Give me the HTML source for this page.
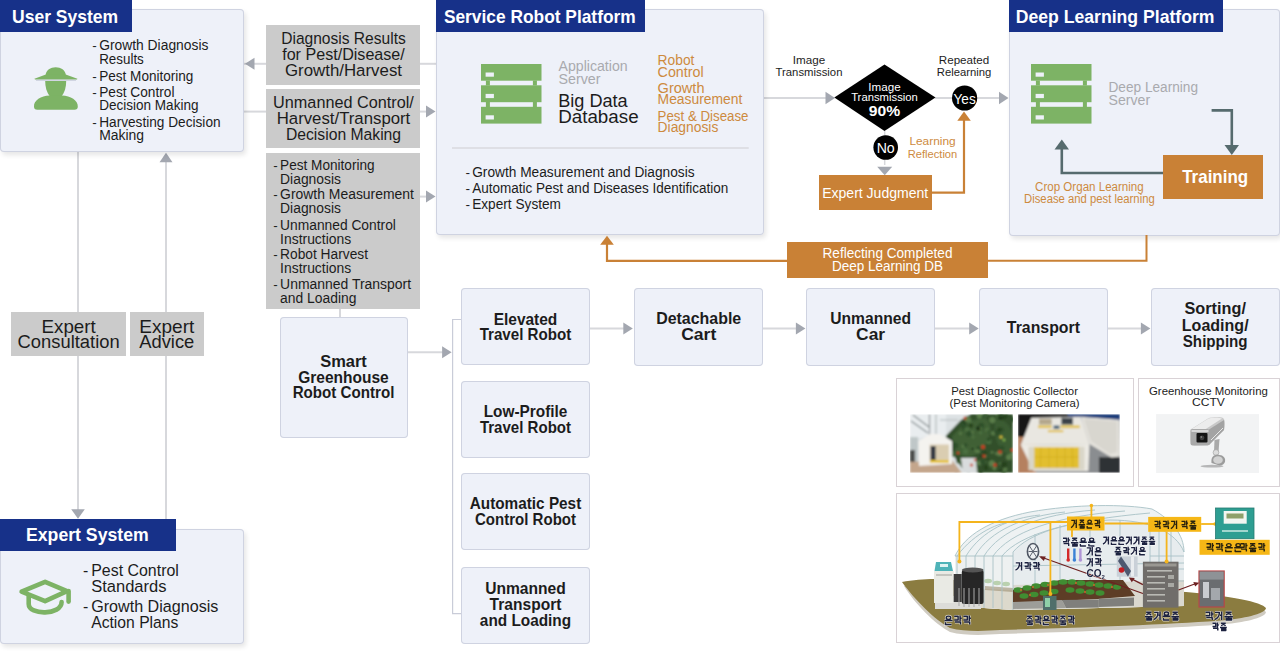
<!DOCTYPE html>
<html><head><meta charset="utf-8"><style>
html,body{margin:0;padding:0;}
body{width:1280px;height:652px;overflow:hidden;background:#fff;position:relative;font-family:"Liberation Sans",sans-serif;}
body>div{position:absolute;box-sizing:border-box;}
svg{position:absolute;left:0;top:0;}
text{font-family:"Liberation Sans",sans-serif;}
</style></head><body>
<svg width="1280" height="652" viewBox="0 0 1280 652"><line x1="78" y1="152" x2="78" y2="510" stroke="#d7d8dc" stroke-width="2"/><line x1="166" y1="161" x2="166" y2="519" stroke="#d7d8dc" stroke-width="2"/><polygon points="166.0,152.8 159.5,162.3 172.5,162.3" fill="#a3a7b0"/><polygon points="78.0,518.8 71.2,509.3 84.8,509.3" fill="#a3a7b0"/><line x1="244" y1="63.8" x2="267" y2="63.8" stroke="#d7d8dc" stroke-width="2"/><line x1="420" y1="63.8" x2="437" y2="63.8" stroke="#d7d8dc" stroke-width="2"/><polygon points="245.0,63.8 254.5,57.8 254.5,69.8" fill="#a3a7b0"/><line x1="244" y1="111.6" x2="267" y2="111.6" stroke="#d7d8dc" stroke-width="2"/><line x1="420" y1="111.6" x2="428" y2="111.6" stroke="#d7d8dc" stroke-width="2"/><polygon points="435.5,111.6 426.0,105.6 426.0,117.6" fill="#a3a7b0"/><line x1="420" y1="196.6" x2="428" y2="196.6" stroke="#d7d8dc" stroke-width="2"/><polygon points="435.5,196.6 426.0,190.6 426.0,202.6" fill="#a3a7b0"/><line x1="340" y1="309" x2="340" y2="318" stroke="#d7d8dc" stroke-width="2"/><line x1="407" y1="352.3" x2="445" y2="352.3" stroke="#d7d8dc" stroke-width="2"/><polygon points="451.6,352.3 442.1,346.3 442.1,358.3" fill="#a3a7b0"/><polyline points="461,319.5 452.6,319.5 452.6,613.6 461,613.6" fill="none" stroke="#c9ccd8" stroke-width="1.2"/><line x1="590" y1="328.6" x2="625" y2="328.6" stroke="#d7d8dc" stroke-width="2"/><line x1="762" y1="328.6" x2="797" y2="328.6" stroke="#d7d8dc" stroke-width="2"/><line x1="934" y1="328.6" x2="970" y2="328.6" stroke="#d7d8dc" stroke-width="2"/><line x1="1107" y1="328.6" x2="1142" y2="328.6" stroke="#d7d8dc" stroke-width="2"/><polygon points="632.8,328.6 623.3,322.6 623.3,334.6" fill="#a3a7b0"/><polygon points="805.4,328.6 795.9,322.6 795.9,334.6" fill="#a3a7b0"/><polygon points="978.7,328.6 969.2,322.6 969.2,334.6" fill="#a3a7b0"/><polygon points="1150.4,328.6 1140.9,322.6 1140.9,334.6" fill="#a3a7b0"/><line x1="764" y1="98" x2="830" y2="98" stroke="#d7d8dc" stroke-width="2"/><line x1="935" y1="98" x2="1002" y2="98" stroke="#d7d8dc" stroke-width="2"/><polygon points="835.0,98.0 825.5,91.8 825.5,104.2" fill="#a3a7b0"/><polygon points="1008.5,98.0 999.0,91.8 999.0,104.2" fill="#a3a7b0"/><line x1="884.7" y1="131" x2="884.7" y2="165" stroke="#d7d8dc" stroke-width="1.5"/><polygon points="884.7,175.2 877.2,166.7 892.2,166.7" fill="#a3a7b0"/></svg>
<div style="left:0px;top:9.4px;width:243.8px;height:143.1px;background:#eef1f9;box-shadow:inset 0 0 0 1px #cfd3e1,2px 3px 5px rgba(0,0,0,0.10);border-radius:4px;"></div><div style="left:0px;top:0px;width:132px;height:32px;background:#173189;"></div><div style="left:266.3px;top:25px;width:153.89999999999998px;height:59.599999999999994px;background:#cbcbcb;"></div><div style="left:266.3px;top:89.3px;width:153.89999999999998px;height:59.10000000000001px;background:#cbcbcb;"></div><div style="left:266.3px;top:153px;width:153.89999999999998px;height:156.3px;background:#cbcbcb;"></div><div style="left:436px;top:9.4px;width:327.6px;height:226.1px;background:#eef1f9;box-shadow:inset 0 0 0 1px #cfd3e1,2px 3px 5px rgba(0,0,0,0.10);border-radius:4px;"></div><div style="left:436px;top:0px;width:208.60000000000002px;height:32px;background:#173189;"></div><div style="left:1008.5px;top:9.4px;width:271.0999999999999px;height:226.4px;background:#eef1f9;box-shadow:inset 0 0 0 1px #cfd3e1,2px 3px 5px rgba(0,0,0,0.10);border-radius:4px;"></div><div style="left:1008.5px;top:0px;width:214.0999999999999px;height:32px;background:#173189;"></div><div style="left:0px;top:528.5px;width:243.5px;height:115.0px;background:#eef1f9;box-shadow:inset 0 0 0 1px #cfd3e1,2px 3px 5px rgba(0,0,0,0.10);border-radius:4px;"></div><div style="left:0px;top:519px;width:176px;height:32px;background:#173189;"></div><div style="left:11.2px;top:312.2px;width:114.8px;height:43.5px;background:#cbcbcb;"></div><div style="left:130px;top:312.2px;width:73.69999999999999px;height:43.5px;background:#cbcbcb;"></div><div style="left:279.5px;top:317px;width:128.10000000000002px;height:120.80000000000001px;background:#eef1f9;box-shadow:inset 0 0 0 1px #cfd3e1;border-radius:4px;"></div><div style="left:461.2px;top:288.2px;width:128.59999999999997px;height:77.19999999999999px;background:#eef1f9;box-shadow:inset 0 0 0 1px #cfd3e1;border-radius:4px;"></div><div style="left:461.2px;top:380.8px;width:128.59999999999997px;height:77.19999999999999px;background:#eef1f9;box-shadow:inset 0 0 0 1px #cfd3e1;border-radius:4px;"></div><div style="left:461.2px;top:473px;width:128.59999999999997px;height:77.20000000000005px;background:#eef1f9;box-shadow:inset 0 0 0 1px #cfd3e1;border-radius:4px;"></div><div style="left:461.2px;top:566.5px;width:128.59999999999997px;height:77.20000000000005px;background:#eef1f9;box-shadow:inset 0 0 0 1px #cfd3e1;border-radius:4px;"></div><div style="left:634.2px;top:288.2px;width:128.60000000000002px;height:77.40000000000003px;background:#eef1f9;box-shadow:inset 0 0 0 1px #cfd3e1;border-radius:4px;"></div><div style="left:806.3px;top:288.2px;width:128.60000000000002px;height:77.40000000000003px;background:#eef1f9;box-shadow:inset 0 0 0 1px #cfd3e1;border-radius:4px;"></div><div style="left:979px;top:288.2px;width:128.5999999999999px;height:77.40000000000003px;background:#eef1f9;box-shadow:inset 0 0 0 1px #cfd3e1;border-radius:4px;"></div><div style="left:1151px;top:288.2px;width:128.5999999999999px;height:77.40000000000003px;background:#eef1f9;box-shadow:inset 0 0 0 1px #cfd3e1;border-radius:4px;"></div><div style="left:895.5px;top:377.6px;width:238.29999999999995px;height:109.69999999999999px;background:#fff;box-shadow:inset 0 0 0 1px #d9d2d6;"></div><div style="left:1138.3px;top:377.6px;width:141.70000000000005px;height:109.69999999999999px;background:#fff;box-shadow:inset 0 0 0 1px #d9d2d6;"></div><div style="left:895.5px;top:492.6px;width:384.5px;height:150.79999999999995px;background:#fff;box-shadow:inset 0 0 0 1px #d9d2d6;"></div><div style="left:818.8px;top:175.2px;width:112.80000000000007px;height:35.30000000000001px;background:#c98136;"></div><div style="left:1163px;top:155.3px;width:99.70000000000005px;height:43.39999999999998px;background:#c98136;"></div><div style="left:787.3px;top:242px;width:200.4000000000001px;height:35.80000000000001px;background:#c98136;"></div>
<svg width="1280" height="652" viewBox="0 0 1280 652"><g transform="translate(481,64)"><rect x="0" y="0" width="60.5" height="59.6" fill="#7db365"/><rect x="-0.5" y="16.7" width="61.5" height="4.6" fill="#eef1f9"/><rect x="4.9" y="16.5" width="4" height="5" fill="#7db365"/><rect x="51.9" y="16.5" width="4" height="5" fill="#7db365"/><rect x="-0.5" y="38.2" width="61.5" height="4.6" fill="#eef1f9"/><rect x="4.9" y="38.0" width="4" height="5" fill="#7db365"/><rect x="51.9" y="38.0" width="4" height="5" fill="#7db365"/><rect x="4.6" y="8.5" width="8.3" height="4.2" fill="#eef1f9"/><rect x="4.6" y="29.9" width="8.3" height="4.2" fill="#eef1f9"/><rect x="4.6" y="51.3" width="8.3" height="4.2" fill="#eef1f9"/></g><g transform="translate(1031,64)"><rect x="0" y="0" width="60.5" height="59.6" fill="#7db365"/><rect x="-0.5" y="16.7" width="61.5" height="4.6" fill="#eef1f9"/><rect x="4.9" y="16.5" width="4" height="5" fill="#7db365"/><rect x="51.9" y="16.5" width="4" height="5" fill="#7db365"/><rect x="-0.5" y="38.2" width="61.5" height="4.6" fill="#eef1f9"/><rect x="4.9" y="38.0" width="4" height="5" fill="#7db365"/><rect x="51.9" y="38.0" width="4" height="5" fill="#7db365"/><rect x="4.6" y="8.5" width="8.3" height="4.2" fill="#eef1f9"/><rect x="4.6" y="29.9" width="8.3" height="4.2" fill="#eef1f9"/><rect x="4.6" y="51.3" width="8.3" height="4.2" fill="#eef1f9"/></g><g transform="translate(28,60)" fill="#7db365">
<path d="M17.6,15.5 C17.8,4.5 37.6,4.5 37.8,15.5 Z"/>
<path d="M6.4,18.8 L18.5,14.2 L37,14.2 L49.4,18.8 L49,19.4 L7,19.4 Z"/>
<path d="M8,20.2 L48,20.2" stroke="#aeb2c4" stroke-width="0.8" stroke-opacity="0.8"/>
<path d="M17.2,21 L38.2,21 C38.2,27.5 36.6,32.5 33.5,36.5 L21.9,36.5 C18.8,32.5 17.2,27.5 17.2,21 Z"/>
<path d="M6,46.5 C5.6,40.5 13,35.8 21.5,35.5 L34,35.5 C42.5,35.8 50.2,40.5 49.8,46.5 Q49.8,49.8 46.5,49.8 L9.3,49.8 Q6,49.8 6,46.5 Z"/>
</g><g transform="translate(14,570)" fill="none" stroke="#7db365" stroke-width="4.6" stroke-linejoin="round" stroke-linecap="round">
<path d="M7.6,21.6 L31.1,11.8 L53,21.2 L31.1,31.2 Z"/>
<path d="M54.6,21 L54.6,31.6"/>
<path d="M14.7,25.5 L14.7,34 C14.7,45.5 47.6,45.5 47.6,32"/>
</g><polygon points="834.3,97.6 884.5,64.6 935.5,97.6 884.5,130.9" fill="#000"/><circle cx="964.6" cy="98" r="12.6" fill="#000"/><circle cx="885.7" cy="147.5" r="12.3" fill="#000"/><polyline points="931.6,192.6 964,192.6 964,119" fill="none" stroke="#c98136" stroke-width="2.2"/><polygon points="964,111.4 957.3,120.8 970.8,120.8" fill="#c98136"/><polyline points="787.3,260.8 607,260.8 607,243" fill="none" stroke="#c98136" stroke-width="2.2"/><polygon points="607,235.7 600.2,244.7 613.8,244.7" fill="#c98136"/><polyline points="987.7,260.8 1146.5,260.8 1146.5,235" fill="none" stroke="#c98136" stroke-width="2"/><polyline points="1211.6,110.4 1231.8,110.4 1231.8,146" fill="none" stroke="#566b6e" stroke-width="2.6"/><polygon points="1231.8,155 1224.5,145 1239,145" fill="#566b6e"/><polyline points="1163,173 1061.8,173 1061.8,148" fill="none" stroke="#566b6e" stroke-width="2.6"/><polygon points="1061.8,139.5 1054.5,149.5 1069,149.5" fill="#566b6e"/><line x1="452" y1="148" x2="748.7" y2="148" stroke="#d8d9de" stroke-width="1.4"/><defs><filter id="bl" x="-5%" y="-5%" width="110%" height="110%"><feGaussianBlur stdDeviation="0.9"/></filter><filter id="bl2"><feGaussianBlur stdDeviation="6"/></filter></defs>
<clipPath id="p1"><rect x="910" y="414.2" width="102.9" height="58.6"/></clipPath>
<g clip-path="url(#p1)"><g filter="url(#bl)">
<rect x="910" y="414" width="103" height="59" fill="#dde2e4"/>
<path d="M910,414 L946,414 L946,436 L930,436 L910,440 Z" fill="#e9edef"/>
<g stroke="#7d8688" stroke-width="1.1" fill="none"><path d="M911,421 L928,433"/><path d="M913,415 L929,427"/><path d="M929.5,414 L929.5,436"/><path d="M936,414 L936,436" stroke="#a9b1b3"/><path d="M940,420 L958,420" stroke="#b5bcbe"/></g>
<rect x="910" y="437" width="8" height="25" fill="#bfc7c8"/>
<rect x="910" y="450" width="5" height="14" fill="#4a4e4c"/>
<path d="M945.7,436 L961,420 L971,414 L1013,414 L1013,473 L975,473 L962,468 L953,455 Z" fill="#33502c"/>
<path d="M950,440 C958,428 968,420 985,418 C995,425 990,445 975,455 C965,460 955,455 950,440 Z" fill="#43653a" opacity="0.8"/>
<path d="M995,420 C1005,418 1012,425 1013,440 L1013,455 C1003,455 993,445 995,420 Z" fill="#3d5f35" opacity="0.8"/>
<circle cx="963.5" cy="446.1" r="1.9" fill="#5a7d4a"/><circle cx="978.8" cy="448.3" r="2.4" fill="#2f4f29"/><circle cx="964.9" cy="427.8" r="3.2" fill="#2f4f29"/><circle cx="983.2" cy="446.4" r="2.0" fill="#3b5c33"/><circle cx="963.1" cy="422.9" r="3.1" fill="#2f4f29"/><circle cx="996.2" cy="453.6" r="1.3" fill="#5a7d4a"/><circle cx="1001.5" cy="429.9" r="2.4" fill="#2f4f29"/><circle cx="994.4" cy="468.3" r="2.0" fill="#5a7d4a"/><circle cx="976.9" cy="469.2" r="3.0" fill="#27421f"/><circle cx="950.3" cy="443.2" r="1.7" fill="#1f3419"/><circle cx="976.4" cy="451.0" r="1.8" fill="#5a7d4a"/><circle cx="1002.2" cy="447.9" r="2.3" fill="#2f4f29"/><circle cx="986.0" cy="467.3" r="2.6" fill="#27421f"/><circle cx="1003.7" cy="472.5" r="2.5" fill="#3b5c33"/><circle cx="993.4" cy="433.3" r="2.3" fill="#5a7d4a"/><circle cx="985.0" cy="456.1" r="1.6" fill="#5a7d4a"/><circle cx="965.4" cy="421.3" r="2.2" fill="#1f3419"/><circle cx="1012.3" cy="419.2" r="2.8" fill="#2f4f29"/><circle cx="1006.3" cy="415.2" r="2.1" fill="#2f4f29"/><circle cx="1004.7" cy="416.6" r="2.4" fill="#27421f"/><circle cx="972.6" cy="448.6" r="2.3" fill="#4c7041"/><circle cx="980.9" cy="472.9" r="1.8" fill="#27421f"/><circle cx="955.0" cy="445.6" r="3.1" fill="#2f4f29"/><circle cx="967.0" cy="429.5" r="2.6" fill="#4c7041"/><circle cx="968.4" cy="470.6" r="3.0" fill="#2f4f29"/><circle cx="972.5" cy="465.3" r="2.0" fill="#5a7d4a"/><circle cx="992.3" cy="420.1" r="3.1" fill="#5a7d4a"/><circle cx="965.6" cy="451.4" r="2.6" fill="#4c7041"/><circle cx="976.4" cy="429.2" r="1.8" fill="#4c7041"/><circle cx="948.7" cy="438.5" r="2.4" fill="#27421f"/><circle cx="972.5" cy="448.8" r="1.5" fill="#1f3419"/><circle cx="988.8" cy="441.5" r="2.6" fill="#4c7041"/><circle cx="987.6" cy="430.5" r="2.2" fill="#5a7d4a"/><circle cx="951.9" cy="453.9" r="3.1" fill="#4c7041"/><circle cx="988.8" cy="431.6" r="2.4" fill="#3b5c33"/><circle cx="971.7" cy="432.4" r="1.9" fill="#5a7d4a"/><circle cx="965.2" cy="460.5" r="1.4" fill="#27421f"/><circle cx="1011.1" cy="454.3" r="1.5" fill="#5a7d4a"/><circle cx="962.5" cy="461.4" r="1.7" fill="#3b5c33"/><circle cx="992.1" cy="452.3" r="1.4" fill="#5a7d4a"/><circle cx="968.9" cy="433.7" r="2.9" fill="#2f4f29"/><circle cx="1000.6" cy="470.7" r="1.4" fill="#1f3419"/><circle cx="990.3" cy="466.2" r="2.1" fill="#3b5c33"/><circle cx="999.2" cy="416.0" r="3.1" fill="#4c7041"/><circle cx="1000.4" cy="463.5" r="1.6" fill="#4c7041"/><circle cx="970.1" cy="462.8" r="1.4" fill="#5a7d4a"/><circle cx="970.4" cy="421.7" r="1.8" fill="#4c7041"/><circle cx="978.2" cy="451.4" r="1.8" fill="#5a7d4a"/><circle cx="974.6" cy="468.3" r="1.5" fill="#27421f"/><circle cx="979.0" cy="463.1" r="2.4" fill="#5a7d4a"/><circle cx="976.2" cy="470.1" r="3.1" fill="#3b5c33"/><circle cx="950.1" cy="440.9" r="2.7" fill="#1f3419"/><circle cx="981.7" cy="431.1" r="1.9" fill="#3b5c33"/><circle cx="1004.0" cy="464.6" r="3.1" fill="#27421f"/><circle cx="1000.7" cy="416.7" r="3.0" fill="#1f3419"/><circle cx="981.3" cy="425.7" r="3.0" fill="#2f4f29"/><circle cx="985.5" cy="414.8" r="2.7" fill="#3b5c33"/><circle cx="980.7" cy="428.1" r="1.2" fill="#5a7d4a"/><circle cx="974.9" cy="469.4" r="2.4" fill="#4c7041"/><circle cx="956.2" cy="471.3" r="2.3" fill="#27421f"/><circle cx="970.9" cy="425.6" r="2.3" fill="#27421f"/><circle cx="959.1" cy="460.7" r="3.0" fill="#3b5c33"/><circle cx="1001.5" cy="414.4" r="2.5" fill="#2f4f29"/><circle cx="965.5" cy="445.1" r="2.0" fill="#2f4f29"/><circle cx="969.0" cy="462.4" r="2.9" fill="#3b5c33"/><circle cx="979.4" cy="415.9" r="2.6" fill="#5a7d4a"/><circle cx="980.6" cy="432.6" r="1.8" fill="#4c7041"/><circle cx="973.1" cy="437.0" r="1.8" fill="#4c7041"/><circle cx="960.4" cy="433.4" r="1.4" fill="#5a7d4a"/><circle cx="999.7" cy="447.4" r="1.3" fill="#2f4f29"/><circle cx="987.3" cy="460.2" r="2.0" fill="#27421f"/><circle cx="988.5" cy="439.5" r="1.9" fill="#2f4f29"/><circle cx="997.4" cy="432.6" r="3.1" fill="#2f4f29"/><circle cx="978.0" cy="428.5" r="2.3" fill="#1f3419"/><circle cx="986.3" cy="461.4" r="1.6" fill="#3b5c33"/><circle cx="1005.2" cy="469.3" r="1.9" fill="#5a7d4a"/><circle cx="999.4" cy="429.5" r="2.1" fill="#27421f"/><circle cx="1009.0" cy="457.2" r="2.9" fill="#5a7d4a"/><circle cx="999.5" cy="453.4" r="2.7" fill="#5a7d4a"/><circle cx="982.6" cy="461.9" r="2.6" fill="#2f4f29"/><circle cx="957.3" cy="459.7" r="1.3" fill="#27421f"/><circle cx="984.7" cy="452.9" r="2.0" fill="#27421f"/><circle cx="970.2" cy="464.3" r="1.3" fill="#27421f"/><circle cx="991.8" cy="463.3" r="3.1" fill="#5a7d4a"/><circle cx="967.5" cy="419.2" r="3.2" fill="#5a7d4a"/><circle cx="981.2" cy="456.2" r="1.4" fill="#1f3419"/><path d="M961,458 L976,458 L977,473 L963,473 Z" fill="#d9dcdd"/>
<path d="M910,462 L952,460 L962,473 L910,473 Z" fill="#c4a68c"/>
<g fill="#cc3a22"><circle cx="965" cy="418" r="1.5"/><circle cx="983" cy="447" r="2"/><circle cx="1000" cy="452" r="1.8"/><circle cx="1012" cy="450" r="1.6"/><circle cx="984" cy="456" r="1.6"/><circle cx="995" cy="465" r="1.8"/><circle cx="971.5" cy="465" r="1.5"/><circle cx="958" cy="453" r="1.3"/><circle cx="975" cy="460" r="1.2"/></g>
<circle cx="1001" cy="437" r="1.6" fill="#d8c03a"/><circle cx="1004" cy="440" r="1.4" fill="#7fb04a"/>
<path d="M918.6,441 L930,434 L940,434 L952,441 L952,464 L919,466 Z" fill="#f4f3ef"/>
<rect x="929.7" y="444.5" width="19.3" height="18.5" fill="#dacdb1"/>
<rect x="930.6" y="446" width="5" height="14" fill="#2d3440"/>
<rect x="930" y="460" width="19" height="3" fill="#e6c32a"/>
</g></g>
<clipPath id="p2"><rect x="1018" y="414.2" width="101.8" height="58.6"/></clipPath>
<g clip-path="url(#p2)"><g filter="url(#bl)">
<rect x="1018" y="414" width="102" height="59" fill="#8a8d90"/>
<rect x="1018" y="414" width="60" height="23" fill="#141414"/>
<rect x="1068" y="414" width="52" height="7" fill="#1d3c7a"/>
<path d="M1018,437 L1036,437 L1036,473 L1018,473 Z" fill="#b5805e"/>
<rect x="1099" y="457" width="21" height="16" fill="#2f3135"/>
<path d="M1080.7,416.8 L1119.4,419.7 L1119.8,456.4 L1111.6,457.4 L1089.4,443.9 Z" fill="#e4e2dc"/>
<path d="M1084,419 L1117,421.5 L1117,452 L1110,454 L1091,441 Z" fill="#d8d6cf"/>
<path d="M1031.4,417.8 L1080.7,416.8 L1089.4,443.9 L1020.8,444.9 Z" fill="#e9e7e1"/>
<path d="M1020.8,444.9 L1089.4,443.9 L1088.4,471 L1033.4,471 Z" fill="#eceae4"/>
<rect x="1028.5" y="446.8" width="56" height="23.2" fill="#d9d6c8"/>
<path d="M1034.3,447.3 L1078.8,447.3 L1078.8,468 L1034.3,468 Z" fill="#e2bf2d"/>
<g stroke="#cfa923" stroke-width="0.7"><path d="M1041,447.5 L1040,468"/><path d="M1049,447.5 L1049,468"/><path d="M1057,447.5 L1057,468"/><path d="M1065,447.5 L1065,468"/><path d="M1072,447.5 L1073,468"/><path d="M1034.5,457 L1078.5,457"/></g>
<rect x="1038" y="425.5" width="13.7" height="2.6" fill="#e2c24a"/><rect x="1060.4" y="425.5" width="19.3" height="2.6" fill="#e2c24a"/><rect x="1047.9" y="430" width="15.4" height="2.2" fill="#e2c24a"/>
<rect x="1039" y="418.8" width="12.7" height="5.8" fill="#b4a78c"/><rect x="1061.4" y="417.8" width="11.6" height="6.8" fill="#3b4248"/><rect x="1053.6" y="425.5" width="5.8" height="3.5" fill="#4a6377"/>
</g></g>

<rect x="1156.1" y="414.1" width="102.9" height="58.9" fill="#f2f3f4"/>

<ellipse cx="1212" cy="466.2" rx="11.5" ry="1.4" fill="#7a7a7a" opacity="0.5"/>
<path d="M1214.5,440 L1219.5,439 L1218.5,452 L1214,452 Z" fill="#a9a9a9"/>
<circle cx="1216" cy="452.5" r="2.9" fill="#dcdcdc" stroke="#9a9a9a" stroke-width="0.6"/>
<path d="M1211.5,463 C1210.5,455 1216,453.5 1222,455.5 C1227,458 1226,465.5 1219.5,465.5 Z" fill="#9c9c9c"/>
<ellipse cx="1218" cy="460" rx="4.8" ry="3.8" fill="#d2d2d2"/>
<path d="M1190.5,429.5 L1208,418.5 C1212,416.5 1220,416.5 1223,418 C1225.5,420 1225.5,426 1224,430 L1209,445 L1195,445.5 C1192,445.5 1190.5,443 1190.5,440 Z" fill="#c9c9c9"/>
<path d="M1191,429.5 L1208.5,418.5 C1212,417 1219,417 1222,418.5 L1205,429.5 Z" fill="#ececec"/>
<path d="M1209,429.5 L1224,420 L1224,430 L1209,445 Z" fill="#a3a3a3"/>
<path d="M1211,440 L1223,428" stroke="#e8e8e8" stroke-width="1"/>
<rect x="1190.5" y="429" width="19" height="16.5" rx="2" fill="#a9a9a9"/>
<rect x="1191.5" y="430" width="17" height="2" fill="#d8d8d8"/>
<rect x="1196.5" y="433" width="11" height="9.5" rx="1" fill="#141414"/>
<circle cx="1202" cy="437.8" r="2.4" fill="#3f3f3f"/>
<circle cx="1201.3" cy="437" r="0.8" fill="#9a9a9a"/>
<defs><filter id="bl3" x="-2%" y="-2%" width="104%" height="104%"><feGaussianBlur stdDeviation="0.45"/></filter></defs><g filter="url(#bl3)">
<path d="M904,586 C915,582 930,581 934,582 L1186,596 C1230,600 1262,606 1266,612 C1266,618 1240,623 1226,624 C1180,628 1100,631 1000,634 C985,635 965,636 950,632 C935,624 915,604 904,586 Z" fill="#cfcbc1"/>
<path d="M902,582 C912,580 925,579 934,579 L1186,592 C1230,596 1262,602 1266,608 C1266,614 1240,619 1226,620 C1180,624 1100,627 1000,630 C985,631 965,632 950,628 C935,620 915,600 902,582 Z" fill="#8b7b3f"/>
<!-- greenhouse body -->
<path d="M955,606 L955,556 C965,535 990,520 1030,512 C1075,504 1125,504 1152,509 C1172,520 1184,535 1184,552 L1184,606 L1013,610 Z" fill="#eef2f3"/>
<path d="M1013,552 C1030,532 1070,522 1110,520 C1150,520 1176,532 1184,552 L1184,606 L1013,610 Z" fill="#e7ecee"/>
<path d="M955,556 L1013,556 L1013,610 L955,606 Z" fill="#eef1f1"/>
<path d="M1013,585 L1184,580 L1184,606 L1013,610 Z" fill="#dad8cf"/>
<path d="M955,588 L1013,590 L1013,610 L955,606 Z" fill="#dcd9cc"/>
<g fill="#a9c79a" opacity="0.75"><ellipse cx="988" cy="581" rx="4" ry="2.2"/><ellipse cx="997" cy="583" rx="4" ry="2.2"/><ellipse cx="1006" cy="584" rx="4" ry="2.2"/></g>
<path d="M985,586 L1013,588 L1013,592 L985,590 Z" fill="#9c8f72" opacity="0.6"/>
<g stroke="#a8c2c6" stroke-width="0.9" fill="none">
<path d="M955,556 C965,535 990,520 1030,512 C1075,504 1125,504 1152,509 C1172,520 1184,535 1184,552"/>
<path d="M957,556 C975,532 1000,522 1013,522"/>
<path d="M966,556 C982,530 1010,518 1040,515"/>
<path d="M975,556 C990,530 1025,516 1065,512"/>
<path d="M984,556 C1000,530 1040,514 1095,510"/>
<path d="M993,556 C1010,532 1055,516 1125,511"/>
<path d="M1002,556 C1020,534 1070,520 1150,513"/>
<path d="M1013,552 C1030,532 1070,522 1110,520 C1150,520 1176,532 1184,552"/>



<path d="M955,556 L1013,556"/>
<path d="M957,556 L957,606"/><path d="M966,556 L966,607"/><path d="M975,556 L975,607"/><path d="M984,556 L984,608"/><path d="M993,556 L993,608"/><path d="M1002,556 L1002,609"/><path d="M1013,552 L1013,610"/>
<path d="M1035,534 L1035,585"/><path d="M1060,525 L1060,584"/><path d="M1090,521 L1090,583"/><path d="M1120,520 L1120,582"/><path d="M1150,521 L1150,581"/><path d="M1159,523 L1159,604"/><path d="M1171,530 L1171,605"/>
<path d="M1013,566 L1184,563"/><path d="M1150,556 L1184,556"/><path d="M1150,569 L1184,569"/><path d="M1150,581 L1184,581"/>
</g>
<!-- beds -->
<path d="M1013,590 L1060,580 L1123,580 L1135,596 L1098,599 L1013,603 Z" fill="#5d3e27"/>
<path d="M1013,602 L1062,600 L1066,608 L1013,609 Z" fill="#9d9d98"/>
<path d="M1062,600 L1098.8,599.6 L1098.8,607.6 L1066,608 Z" fill="#7f7f7b"/><path d="M1098.8,598.7 L1134,597.5 L1134,605.8 L1098.8,607 Z" fill="#7f7f7b"/>
<g fill="#3f8d32">
<ellipse cx="1018" cy="590" rx="4.5" ry="2.8"/><ellipse cx="1027" cy="588" rx="4.5" ry="2.8"/><ellipse cx="1036" cy="586" rx="4.5" ry="2.8"/><ellipse cx="1045" cy="584.5" rx="4.5" ry="2.8"/><ellipse cx="1054" cy="583" rx="4.5" ry="2.8"/><ellipse cx="1063" cy="582" rx="4.5" ry="2.8"/>
<ellipse cx="1024" cy="596" rx="4.5" ry="2.8"/><ellipse cx="1034" cy="594.5" rx="4.5" ry="2.8"/><ellipse cx="1044" cy="593" rx="4.5" ry="2.8"/><ellipse cx="1054" cy="591.5" rx="4.5" ry="2.8"/>
<ellipse cx="1072" cy="582" rx="4.5" ry="2.8"/><ellipse cx="1081" cy="583" rx="4.5" ry="2.8"/><ellipse cx="1090" cy="584" rx="4.5" ry="2.8"/><ellipse cx="1099" cy="585" rx="4.5" ry="2.8"/><ellipse cx="1108" cy="586" rx="4.5" ry="2.8"/><ellipse cx="1117" cy="587" rx="4" ry="2.8"/>
<ellipse cx="1070" cy="590" rx="4.5" ry="2.8"/><ellipse cx="1080" cy="591" rx="4.5" ry="2.8"/><ellipse cx="1090" cy="592" rx="4.5" ry="2.8"/><ellipse cx="1100" cy="593" rx="4.5" ry="2.8"/>
</g>
<g fill="#d9652b"><circle cx="1021" cy="590" r="0.9"/><circle cx="1033" cy="587" r="0.9"/><circle cx="1048" cy="585" r="0.9"/><circle cx="1030" cy="595" r="0.9"/><circle cx="1050" cy="592" r="0.9"/><circle cx="1076" cy="583" r="0.9"/><circle cx="1094" cy="585" r="0.9"/><circle cx="1112" cy="587" r="0.9"/><circle cx="1085" cy="592" r="0.9"/></g>
<!-- nutrient machine -->
<rect x="935" y="596" width="46" height="13" fill="#dcdcd8"/>
<rect x="934" y="571" width="19.7" height="32" fill="#e9eae4"/>
<rect x="936" y="574" width="16" height="2" fill="#c4c5bf"/>
<path d="M936,562 L951,562 L953,571 L934.5,571 Z" fill="#4fb3b8"/>
<rect x="940" y="564" width="8" height="3" fill="#dff3f3"/>
<rect x="953.7" y="574" width="8" height="28" fill="#3a3a3a"/>
<rect x="961.8" y="570" width="21.8" height="34" rx="2" fill="#262626"/>
<ellipse cx="972.7" cy="570" rx="10.9" ry="2.4" fill="#555"/>
<g stroke="#a9a9a9" stroke-width="1"><path d="M959,588 L959,606"/><path d="M964,588 L964,607"/><path d="M969,588 L969,607"/><path d="M974,588 L974,607"/><path d="M979,588 L979,606"/></g>
<!-- soil sensor -->
<rect x="1043" y="596" width="13.5" height="14" fill="#4f6e6a"/>
<rect x="1045" y="598" width="5" height="9" fill="#8fd0a8"/>
<!-- fan -->
<ellipse cx="1033" cy="551.5" rx="5.6" ry="8" fill="#eef1f3" stroke="#4f5663" stroke-width="1.6"/>
<path d="M1029.5,546 L1036.5,557 M1036.5,546 L1029.5,557 M1028.5,551.5 L1037.5,551.5" stroke="#5d6470" stroke-width="1"/>
<!-- thermometers -->
<rect x="1067" y="548.5" width="2.4" height="11" fill="#d42a2a"/><circle cx="1068.2" cy="560" r="1.8" fill="#d42a2a"/>
<rect x="1073.2" y="548.5" width="2.4" height="11" fill="#3b82d6"/><circle cx="1074.4" cy="560" r="1.8" fill="#3b82d6"/>
<rect x="1079.2" y="548.5" width="2.4" height="11" fill="#b095d6"/><circle cx="1080.4" cy="560" r="1.8" fill="#b095d6"/>
<!-- motor photo -->
<rect x="1116.8" y="556.4" width="20.8" height="20.3" fill="#c9d0d8"/>
<path d="M1121,556.4 L1131,571 L1128,576.7 L1118,561 Z" fill="#4d5870"/>
<rect x="1131" y="556.4" width="3" height="20" fill="#e9ecef"/>
<circle cx="1121.5" cy="570" r="2.8" fill="#c41f22"/>
<!-- control panel -->
<rect x="1142.9" y="561.7" width="35.6" height="45.9" fill="#6f6d6a"/>
<rect x="1144.5" y="563.5" width="32" height="3" fill="#9a9892"/>
<g fill="#b9b9b4"><rect x="1147" y="570" width="25" height="1.6"/><rect x="1147" y="576" width="18" height="1.6"/><rect x="1147" y="582" width="18" height="1.6"/><rect x="1147" y="588" width="18" height="1.6"/><rect x="1147" y="594" width="18" height="1.6"/><rect x="1147" y="600" width="18" height="1.6"/></g>
<g fill="#a8a8a3"><rect x="1168" y="575" width="6" height="4"/><rect x="1168" y="583" width="6" height="4"/></g>
<!-- cooling photo -->
<rect x="1198.4" y="570.4" width="26.4" height="37.2" fill="#b64848"/>
<rect x="1199.6" y="571.6" width="24" height="34.8" fill="#6a6d70"/>
<rect x="1199.6" y="571.6" width="24" height="8" fill="#8e9296"/>
<rect x="1203" y="582" width="6" height="16" fill="#c9ccd0"/><rect x="1211" y="588" width="9" height="12" fill="#a4a8ac"/>
<!-- dark red arrows -->
<g stroke="#6e2020" stroke-width="1.3" fill="none">
<path d="M1142.9,593.5 L1041,557"/><path d="M1142.9,584.6 L1131,578.6"/><path d="M1178.5,590 L1196,583.5"/>
</g>
<g fill="#6e2020"><polygon points="1039,556.3 1045.8,556.5 1043.8,561"/><polygon points="1128.8,577.6 1134.8,578.0 1131.8,582.3"/><polygon points="1199.3,582.8 1193.3,581.9 1195.2,586.6"/></g>
<!-- yellow lines -->
<g stroke="#f4b41a" stroke-width="1.8" fill="none">
<polyline points="959.4,561.7 959.4,522 1067,522"/>
<polyline points="1050.4,522 1050.4,594"/>
<polyline points="1091.4,505 1091.4,517"/>
<polyline points="1104.5,523.5 1148.2,523.5"/>
<polyline points="1201.1,524 1216,524"/>
<polyline points="1166.6,531.5 1166.6,561.7"/>
<polyline points="1072,530 1072,537"/>
</g>
<g fill="#f4b41a"><circle cx="1091.4" cy="505.5" r="1.8"/><circle cx="959.4" cy="561.5" r="2"/><circle cx="1050.4" cy="594" r="2"/><circle cx="1166.6" cy="561.5" r="2"/><circle cx="1215" cy="524" r="1.8"/></g>
<rect x="1067" y="516.5" width="37.5" height="14" fill="#f6b716"/>
<rect x="1148.2" y="516.9" width="53" height="14.9" fill="#f6b716"/>
<rect x="1199.5" y="539.8" width="70.2" height="15" fill="#f6b716"/>
<!-- controller -->
<rect x="1215.6" y="508" width="38.4" height="30.7" fill="#2f9e92"/>
<rect x="1215.6" y="508" width="38.4" height="30.7" fill="none" stroke="#237a72" stroke-width="0.8"/>
<rect x="1223.7" y="511" width="23" height="12.7" fill="#f3f6f1"/>
<rect x="1226.5" y="513.5" width="17" height="5" fill="#8ea06a"/>
<rect x="1222" y="530" width="26" height="2" fill="#bfe3dd" opacity="0.8"/>
<path d="M1071.3,520.35 H1074.52 C1074.52,524.6 1072.92,526.725 1071.0,527.575 M1076.248,519.5 V528.0 M1074.968,523.325 H1076.248" fill="none" stroke="#2a2410" stroke-width="1.35" stroke-linejoin="round"/><path d="M1079.66,520.2 H1084.14 M1081.9,520.2 V521.625 M1079.98,523.325 C1080.6200000000001,521.2 1083.18,521.2 1083.82,523.325 M1078.7,524.77 H1085.1000000000001 M1081.9,524.77 V526.3 M1079.66,526.47 H1084.14 V528.0 H1079.66" fill="none" stroke="#2a2410" stroke-width="1.35" stroke-linejoin="round"/><path d="M1089.6000000000001,519.925 m-1.7920000000000003,1.7000000000000002 a1.7920000000000003,1.53 0 1,0 3.5840000000000005,0 a1.7920000000000003,1.53 0 1,0 -3.5840000000000005,0 M1086.4,524.175 H1092.8000000000002 M1087.1680000000001,525.875 V528.0 H1092.0320000000002" fill="none" stroke="#2a2410" stroke-width="1.35" stroke-linejoin="round"/><path d="M1094.6,520.3 H1097.62 V523.75 H1094.6 M1099.2199999999998,519.5 V524.77 M1099.2199999999998,522.05 H1100.5 M1095.06,525.62 H1099.54 V528.0 " fill="none" stroke="#2a2410" stroke-width="1.35" stroke-linejoin="round"/><path d="M1154.5,521.3 H1157.85 V524.75 H1154.5 M1159.6,520.5 V525.77 M1159.6,523.05 H1161.0 M1155.05,526.62 H1159.95 V529.0 " fill="none" stroke="#2a2410" stroke-width="1.35" stroke-linejoin="round"/><path d="M1162.9,521.3 H1166.25 V524.75 H1162.9 M1168.0,520.5 V525.77 M1168.0,523.05 H1169.4 M1163.45,526.62 H1168.3500000000001 V529.0 " fill="none" stroke="#2a2410" stroke-width="1.35" stroke-linejoin="round"/><path d="M1171.1,521.35 H1174.6499999999999 C1174.6499999999999,525.6 1172.8999999999999,527.725 1170.8,528.575 M1176.54,520.5 V529.0 M1175.1399999999999,524.325 H1176.54" fill="none" stroke="#2a2410" stroke-width="1.35" stroke-linejoin="round"/><path d="M1181.5,521.3 H1184.85 V524.75 H1181.5 M1186.6,520.5 V525.77 M1186.6,523.05 H1188.0 M1182.05,526.62 H1186.95 V529.0 " fill="none" stroke="#2a2410" stroke-width="1.35" stroke-linejoin="round"/><path d="M1190.45,521.2 H1195.3500000000001 M1192.9,521.2 V522.625 M1190.8000000000002,524.325 C1191.5,522.2 1194.3000000000002,522.2 1195.0,524.325 M1189.4,525.77 H1196.4 M1192.9,525.77 V527.3 M1190.45,527.47 H1195.3500000000001 V529.0 H1190.45" fill="none" stroke="#2a2410" stroke-width="1.35" stroke-linejoin="round"/><path d="M1206.5,543.8 H1210.4 V547.25 H1206.5 M1212.4,543 V548.27 M1212.4,545.55 H1214.0 M1207.2,549.12 H1212.8 V551.5 " fill="none" stroke="#2a2410" stroke-width="1.4" stroke-linejoin="round"/><path d="M1215.9,543.8 H1219.8000000000002 V547.25 H1215.9 M1221.8000000000002,543 V548.27 M1221.8000000000002,545.55 H1223.4 M1216.6000000000001,549.12 H1222.2 V551.5 " fill="none" stroke="#2a2410" stroke-width="1.4" stroke-linejoin="round"/><path d="M1228.8,543.425 m-2.24,1.7000000000000002 a2.24,1.53 0 1,0 4.48,0 a2.24,1.53 0 1,0 -4.48,0 M1224.8,547.675 H1232.8 M1225.76,549.375 V551.5 H1231.84" fill="none" stroke="#2a2410" stroke-width="1.4" stroke-linejoin="round"/><path d="M1238.2,543.425 m-2.24,1.7000000000000002 a2.24,1.53 0 1,0 4.48,0 a2.24,1.53 0 1,0 -4.48,0 M1234.2,547.675 H1242.2 M1235.16,549.375 V551.5 H1241.24" fill="none" stroke="#2a2410" stroke-width="1.4" stroke-linejoin="round"/><path d="M1240.5,543.8 H1244.125 V547.25 H1240.5 M1246.0,543 V548.27 M1246.0,545.55 H1247.5 M1241.125,549.12 H1246.375 V551.5 " fill="none" stroke="#2a2410" stroke-width="1.4" stroke-linejoin="round"/><path d="M1250.025,543.7 H1255.275 M1252.65,543.7 V545.125 M1250.4,546.825 C1251.15,544.7 1254.15,544.7 1254.9,546.825 M1248.9,548.27 H1256.4 M1252.65,548.27 V549.8 M1250.025,549.97 H1255.275 V551.5 H1250.025" fill="none" stroke="#2a2410" stroke-width="1.4" stroke-linejoin="round"/><path d="M1258.3,543.8 H1261.925 V547.25 H1258.3 M1263.8,543 V548.27 M1263.8,545.55 H1265.3 M1258.925,549.12 H1264.175 V551.5 " fill="none" stroke="#2a2410" stroke-width="1.4" stroke-linejoin="round"/><path d="M948.5,615.95 m-2.24,1.8 a2.24,1.6199999999999999 0 1,0 4.48,0 a2.24,1.6199999999999999 0 1,0 -4.48,0 M944.5,620.45 H952.5 M945.46,622.25 V624.5 H951.54" fill="none" stroke="#ffffff" stroke-width="2.8499999999999996" stroke-opacity="0.7" stroke-linejoin="round"/><path d="M948.5,615.95 m-2.24,1.8 a2.24,1.6199999999999999 0 1,0 4.48,0 a2.24,1.6199999999999999 0 1,0 -4.48,0 M944.5,620.45 H952.5 M945.46,622.25 V624.5 H951.54" fill="none" stroke="#1d2240" stroke-width="1.45" stroke-linejoin="round"/><path d="M954.2,616.3 H958.1 V620.0 H954.2 M960.1,615.5 V621.08 M960.1,618.2 H961.7 M954.9000000000001,621.98 H960.5 V624.5 " fill="none" stroke="#ffffff" stroke-width="2.8499999999999996" stroke-opacity="0.7" stroke-linejoin="round"/><path d="M954.2,616.3 H958.1 V620.0 H954.2 M960.1,615.5 V621.08 M960.1,618.2 H961.7 M954.9000000000001,621.98 H960.5 V624.5 " fill="none" stroke="#1d2240" stroke-width="1.45" stroke-linejoin="round"/><path d="M963.4,616.3 H967.3 V620.0 H963.4 M969.3,615.5 V621.08 M969.3,618.2 H970.9 M964.1,621.98 H969.6999999999999 V624.5 " fill="none" stroke="#ffffff" stroke-width="2.8499999999999996" stroke-opacity="0.7" stroke-linejoin="round"/><path d="M963.4,616.3 H967.3 V620.0 H963.4 M969.3,615.5 V621.08 M969.3,618.2 H970.9 M964.1,621.98 H969.6999999999999 V624.5 " fill="none" stroke="#1d2240" stroke-width="1.45" stroke-linejoin="round"/><path d="M1027.08,616.2 H1032.12 M1029.6,616.2 V617.75 M1027.44,619.55 C1028.16,617.3 1031.04,617.3 1031.76,619.55 M1026.0,621.08 H1033.2 M1029.6,621.08 V622.7 M1027.08,622.88 H1032.12 V624.5 H1027.08" fill="none" stroke="#ffffff" stroke-width="2.8499999999999996" stroke-opacity="0.7" stroke-linejoin="round"/><path d="M1027.08,616.2 H1032.12 M1029.6,616.2 V617.75 M1027.44,619.55 C1028.16,617.3 1031.04,617.3 1031.76,619.55 M1026.0,621.08 H1033.2 M1029.6,621.08 V622.7 M1027.08,622.88 H1032.12 V624.5 H1027.08" fill="none" stroke="#1d2240" stroke-width="1.45" stroke-linejoin="round"/><path d="M1034.8,616.3 H1038.26 V620.0 H1034.8 M1040.06,615.5 V621.08 M1040.06,618.2 H1041.5 M1035.3799999999999,621.98 H1040.4199999999998 V624.5 " fill="none" stroke="#ffffff" stroke-width="2.8499999999999996" stroke-opacity="0.7" stroke-linejoin="round"/><path d="M1034.8,616.3 H1038.26 V620.0 H1034.8 M1040.06,615.5 V621.08 M1040.06,618.2 H1041.5 M1035.3799999999999,621.98 H1040.4199999999998 V624.5 " fill="none" stroke="#1d2240" stroke-width="1.45" stroke-linejoin="round"/><path d="M1046.1999999999998,615.95 m-2.0160000000000005,1.8 a2.0160000000000005,1.6199999999999999 0 1,0 4.032000000000001,0 a2.0160000000000005,1.6199999999999999 0 1,0 -4.032000000000001,0 M1042.6,620.45 H1049.8 M1043.464,622.25 V624.5 H1048.936" fill="none" stroke="#ffffff" stroke-width="2.8499999999999996" stroke-opacity="0.7" stroke-linejoin="round"/><path d="M1046.1999999999998,615.95 m-2.0160000000000005,1.8 a2.0160000000000005,1.6199999999999999 0 1,0 4.032000000000001,0 a2.0160000000000005,1.6199999999999999 0 1,0 -4.032000000000001,0 M1042.6,620.45 H1049.8 M1043.464,622.25 V624.5 H1048.936" fill="none" stroke="#1d2240" stroke-width="1.45" stroke-linejoin="round"/><path d="M1051.4,616.3 H1054.8600000000001 V620.0 H1051.4 M1056.66,615.5 V621.08 M1056.66,618.2 H1058.1000000000001 M1051.98,621.98 H1057.02 V624.5 " fill="none" stroke="#ffffff" stroke-width="2.8499999999999996" stroke-opacity="0.7" stroke-linejoin="round"/><path d="M1051.4,616.3 H1054.8600000000001 V620.0 H1051.4 M1056.66,615.5 V621.08 M1056.66,618.2 H1058.1000000000001 M1051.98,621.98 H1057.02 V624.5 " fill="none" stroke="#1d2240" stroke-width="1.45" stroke-linejoin="round"/><path d="M1060.28,616.2 H1065.32 M1062.8,616.2 V617.75 M1060.64,619.55 C1061.3600000000001,617.3 1064.24,617.3 1064.96,619.55 M1059.2,621.08 H1066.4 M1062.8,621.08 V622.7 M1060.28,622.88 H1065.32 V624.5 H1060.28" fill="none" stroke="#ffffff" stroke-width="2.8499999999999996" stroke-opacity="0.7" stroke-linejoin="round"/><path d="M1060.28,616.2 H1065.32 M1062.8,616.2 V617.75 M1060.64,619.55 C1061.3600000000001,617.3 1064.24,617.3 1064.96,619.55 M1059.2,621.08 H1066.4 M1062.8,621.08 V622.7 M1060.28,622.88 H1065.32 V624.5 H1060.28" fill="none" stroke="#1d2240" stroke-width="1.45" stroke-linejoin="round"/><path d="M1068.0,616.3 H1071.46 V620.0 H1068.0 M1073.26,615.5 V621.08 M1073.26,618.2 H1074.7 M1068.58,621.98 H1073.62 V624.5 " fill="none" stroke="#ffffff" stroke-width="2.8499999999999996" stroke-opacity="0.7" stroke-linejoin="round"/><path d="M1068.0,616.3 H1071.46 V620.0 H1068.0 M1073.26,615.5 V621.08 M1073.26,618.2 H1074.7 M1068.58,621.98 H1073.62 V624.5 " fill="none" stroke="#1d2240" stroke-width="1.45" stroke-linejoin="round"/><path d="M1146.14,612.2 H1151.46 M1148.8,612.2 V613.625 M1146.52,615.325 C1147.28,613.2 1150.32,613.2 1151.08,615.325 M1145.0,616.77 H1152.6 M1148.8,616.77 V618.3 M1146.14,618.47 H1151.46 V620.0 H1146.14" fill="none" stroke="#ffffff" stroke-width="2.8499999999999996" stroke-opacity="0.7" stroke-linejoin="round"/><path d="M1146.14,612.2 H1151.46 M1148.8,612.2 V613.625 M1146.52,615.325 C1147.28,613.2 1150.32,613.2 1151.08,615.325 M1145.0,616.77 H1152.6 M1148.8,616.77 V618.3 M1146.14,618.47 H1151.46 V620.0 H1146.14" fill="none" stroke="#1d2240" stroke-width="1.45" stroke-linejoin="round"/><path d="M1154.1,612.35 H1157.98 C1157.98,616.6 1156.08,618.725 1153.8,619.575 M1160.032,611.5 V620.0 M1158.512,615.325 H1160.032" fill="none" stroke="#ffffff" stroke-width="2.8499999999999996" stroke-opacity="0.7" stroke-linejoin="round"/><path d="M1154.1,612.35 H1157.98 C1157.98,616.6 1156.08,618.725 1153.8,619.575 M1160.032,611.5 V620.0 M1158.512,615.325 H1160.032" fill="none" stroke="#1d2240" stroke-width="1.45" stroke-linejoin="round"/><path d="M1166.3999999999999,611.925 m-2.128,1.7000000000000002 a2.128,1.53 0 1,0 4.256,0 a2.128,1.53 0 1,0 -4.256,0 M1162.6,616.175 H1170.1999999999998 M1163.512,617.875 V620.0 H1169.288" fill="none" stroke="#ffffff" stroke-width="2.8499999999999996" stroke-opacity="0.7" stroke-linejoin="round"/><path d="M1166.3999999999999,611.925 m-2.128,1.7000000000000002 a2.128,1.53 0 1,0 4.256,0 a2.128,1.53 0 1,0 -4.256,0 M1162.6,616.175 H1170.1999999999998 M1163.512,617.875 V620.0 H1169.288" fill="none" stroke="#1d2240" stroke-width="1.45" stroke-linejoin="round"/><path d="M1172.5400000000002,612.2 H1177.8600000000001 M1175.2,612.2 V613.625 M1172.92,615.325 C1173.68,613.2 1176.72,613.2 1177.48,615.325 M1171.4,616.77 H1179.0 M1175.2,616.77 V618.3 M1172.5400000000002,618.47 H1177.8600000000001 V620.0 H1172.5400000000002" fill="none" stroke="#ffffff" stroke-width="2.8499999999999996" stroke-opacity="0.7" stroke-linejoin="round"/><path d="M1172.5400000000002,612.2 H1177.8600000000001 M1175.2,612.2 V613.625 M1172.92,615.325 C1173.68,613.2 1176.72,613.2 1177.48,615.325 M1171.4,616.77 H1179.0 M1175.2,616.77 V618.3 M1172.5400000000002,618.47 H1177.8600000000001 V620.0 H1172.5400000000002" fill="none" stroke="#1d2240" stroke-width="1.45" stroke-linejoin="round"/><path d="M1205.5,612.3 H1209.675 V615.75 H1205.5 M1211.8,611.5 V616.77 M1211.8,614.05 H1213.5 M1206.275,617.62 H1212.225 V620.0 " fill="none" stroke="#ffffff" stroke-width="2.8499999999999996" stroke-opacity="0.7" stroke-linejoin="round"/><path d="M1205.5,612.3 H1209.675 V615.75 H1205.5 M1211.8,611.5 V616.77 M1211.8,614.05 H1213.5 M1206.275,617.62 H1212.225 V620.0 " fill="none" stroke="#1d2240" stroke-width="1.45" stroke-linejoin="round"/><path d="M1215.0,612.35 H1219.375 C1219.375,616.6 1217.25,618.725 1214.7,619.575 M1221.67,611.5 V620.0 M1219.97,615.325 H1221.67" fill="none" stroke="#ffffff" stroke-width="2.8499999999999996" stroke-opacity="0.7" stroke-linejoin="round"/><path d="M1215.0,612.35 H1219.375 C1219.375,616.6 1217.25,618.725 1214.7,619.575 M1221.67,611.5 V620.0 M1219.97,615.325 H1221.67" fill="none" stroke="#1d2240" stroke-width="1.45" stroke-linejoin="round"/><path d="M1225.6750000000002,612.2 H1231.625 M1228.65,612.2 V613.625 M1226.1000000000001,615.325 C1226.95,613.2 1230.3500000000001,613.2 1231.2,615.325 M1224.4,616.77 H1232.9 M1228.65,616.77 V618.3 M1225.6750000000002,618.47 H1231.625 V620.0 H1225.6750000000002" fill="none" stroke="#ffffff" stroke-width="2.8499999999999996" stroke-opacity="0.7" stroke-linejoin="round"/><path d="M1225.6750000000002,612.2 H1231.625 M1228.65,612.2 V613.625 M1226.1000000000001,615.325 C1226.95,613.2 1230.3500000000001,613.2 1231.2,615.325 M1224.4,616.77 H1232.9 M1228.65,616.77 V618.3 M1225.6750000000002,618.47 H1231.625 V620.0 H1225.6750000000002" fill="none" stroke="#1d2240" stroke-width="1.45" stroke-linejoin="round"/><path d="M1212.5,623.3 H1215.74 V626.5 H1212.5 M1217.44,622.5 V627.46 M1217.44,624.9 H1218.8 M1213.02,628.26 H1217.78 V630.5 " fill="none" stroke="#ffffff" stroke-width="2.8499999999999996" stroke-opacity="0.7" stroke-linejoin="round"/><path d="M1212.5,623.3 H1215.74 V626.5 H1212.5 M1217.44,622.5 V627.46 M1217.44,624.9 H1218.8 M1213.02,628.26 H1217.78 V630.5 " fill="none" stroke="#1d2240" stroke-width="1.45" stroke-linejoin="round"/><path d="M1221.02,623.2 H1225.78 M1223.4,623.2 V624.5 M1221.36,626.1 C1222.04,624.1 1224.76,624.1 1225.44,626.1 M1220.0,627.46 H1226.8 M1223.4,627.46 V628.9 M1221.02,629.06 H1225.78 V630.5 H1221.02" fill="none" stroke="#ffffff" stroke-width="2.8499999999999996" stroke-opacity="0.7" stroke-linejoin="round"/><path d="M1221.02,623.2 H1225.78 M1223.4,623.2 V624.5 M1221.36,626.1 C1222.04,624.1 1224.76,624.1 1225.44,626.1 M1220.0,627.46 H1226.8 M1223.4,627.46 V628.9 M1221.02,629.06 H1225.78 V630.5 H1221.02" fill="none" stroke="#1d2240" stroke-width="1.45" stroke-linejoin="round"/><path d="M1015.8,562.85 H1019.57 C1019.57,567.1 1017.72,569.225 1015.5,570.075 M1021.568,562 V570.5 M1020.088,565.825 H1021.568" fill="none" stroke="#ffffff" stroke-width="2.8" stroke-opacity="0.7" stroke-linejoin="round"/><path d="M1015.8,562.85 H1019.57 C1019.57,567.1 1017.72,569.225 1015.5,570.075 M1021.568,562 V570.5 M1020.088,565.825 H1021.568" fill="none" stroke="#1d2240" stroke-width="1.4" stroke-linejoin="round"/><path d="M1024.6,562.8 H1028.1699999999998 V566.25 H1024.6 M1030.02,562 V567.27 M1030.02,564.55 H1031.5 M1025.2099999999998,568.12 H1030.3899999999999 V570.5 " fill="none" stroke="#ffffff" stroke-width="2.8" stroke-opacity="0.7" stroke-linejoin="round"/><path d="M1024.6,562.8 H1028.1699999999998 V566.25 H1024.6 M1030.02,562 V567.27 M1030.02,564.55 H1031.5 M1025.2099999999998,568.12 H1030.3899999999999 V570.5 " fill="none" stroke="#1d2240" stroke-width="1.4" stroke-linejoin="round"/><path d="M1033.2,562.8 H1036.77 V566.25 H1033.2 M1038.6200000000001,562 V567.27 M1038.6200000000001,564.55 H1040.1000000000001 M1033.81,568.12 H1038.99 V570.5 " fill="none" stroke="#ffffff" stroke-width="2.8" stroke-opacity="0.7" stroke-linejoin="round"/><path d="M1033.2,562.8 H1036.77 V566.25 H1033.2 M1038.6200000000001,562 V567.27 M1038.6200000000001,564.55 H1040.1000000000001 M1033.81,568.12 H1038.99 V570.5 " fill="none" stroke="#1d2240" stroke-width="1.4" stroke-linejoin="round"/><path d="M1063.0,538.3 H1066.515 V541.75 H1063.0 M1068.34,537.5 V542.77 M1068.34,540.05 H1069.8 M1063.595,543.62 H1068.705 V546.0 " fill="none" stroke="#ffffff" stroke-width="2.8" stroke-opacity="0.7" stroke-linejoin="round"/><path d="M1063.0,538.3 H1066.515 V541.75 H1063.0 M1068.34,537.5 V542.77 M1068.34,540.05 H1069.8 M1063.595,543.62 H1068.705 V546.0 " fill="none" stroke="#1d2240" stroke-width="1.4" stroke-linejoin="round"/><path d="M1072.095,538.2 H1077.205 M1074.65,538.2 V539.625 M1072.46,541.325 C1073.19,539.2 1076.11,539.2 1076.84,541.325 M1071.0,542.77 H1078.3 M1074.65,542.77 V544.3 M1072.095,544.47 H1077.205 V546.0 H1072.095" fill="none" stroke="#ffffff" stroke-width="2.8" stroke-opacity="0.7" stroke-linejoin="round"/><path d="M1072.095,538.2 H1077.205 M1074.65,538.2 V539.625 M1072.46,541.325 C1073.19,539.2 1076.11,539.2 1076.84,541.325 M1071.0,542.77 H1078.3 M1074.65,542.77 V544.3 M1072.095,544.47 H1077.205 V546.0 H1072.095" fill="none" stroke="#1d2240" stroke-width="1.4" stroke-linejoin="round"/><path d="M1083.15,537.925 m-2.044,1.7000000000000002 a2.044,1.53 0 1,0 4.088,0 a2.044,1.53 0 1,0 -4.088,0 M1079.5,542.175 H1086.8 M1080.376,543.875 V546.0 H1085.924" fill="none" stroke="#ffffff" stroke-width="2.8" stroke-opacity="0.7" stroke-linejoin="round"/><path d="M1083.15,537.925 m-2.044,1.7000000000000002 a2.044,1.53 0 1,0 4.088,0 a2.044,1.53 0 1,0 -4.088,0 M1079.5,542.175 H1086.8 M1080.376,543.875 V546.0 H1085.924" fill="none" stroke="#1d2240" stroke-width="1.4" stroke-linejoin="round"/><path d="M1091.65,537.925 m-2.044,1.7000000000000002 a2.044,1.53 0 1,0 4.088,0 a2.044,1.53 0 1,0 -4.088,0 M1088.0,542.175 H1095.3 M1088.876,543.875 V546.0 H1094.424" fill="none" stroke="#ffffff" stroke-width="2.8" stroke-opacity="0.7" stroke-linejoin="round"/><path d="M1091.65,537.925 m-2.044,1.7000000000000002 a2.044,1.53 0 1,0 4.088,0 a2.044,1.53 0 1,0 -4.088,0 M1088.0,542.175 H1095.3 M1088.876,543.875 V546.0 H1094.424" fill="none" stroke="#1d2240" stroke-width="1.4" stroke-linejoin="round"/><path d="M1103.3,537.1999999999999 H1106.63 C1106.63,541.1999999999999 1104.98,543.1999999999999 1103.0,544.0 M1108.412,536.4 V544.4 M1107.092,540.0 H1108.412" fill="none" stroke="#ffffff" stroke-width="2.8" stroke-opacity="0.7" stroke-linejoin="round"/><path d="M1103.3,537.1999999999999 H1106.63 C1106.63,541.1999999999999 1104.98,543.1999999999999 1103.0,544.0 M1108.412,536.4 V544.4 M1107.092,540.0 H1108.412" fill="none" stroke="#1d2240" stroke-width="1.4" stroke-linejoin="round"/><path d="M1113.8999999999999,536.8 m-1.848,1.6 a1.848,1.44 0 1,0 3.696,0 a1.848,1.44 0 1,0 -3.696,0 M1110.6,540.8 H1117.1999999999998 M1111.3919999999998,542.4 V544.4 H1116.408" fill="none" stroke="#ffffff" stroke-width="2.8" stroke-opacity="0.7" stroke-linejoin="round"/><path d="M1113.8999999999999,536.8 m-1.848,1.6 a1.848,1.44 0 1,0 3.696,0 a1.848,1.44 0 1,0 -3.696,0 M1110.6,540.8 H1117.1999999999998 M1111.3919999999998,542.4 V544.4 H1116.408" fill="none" stroke="#1d2240" stroke-width="1.4" stroke-linejoin="round"/><path d="M1121.5,536.8 m-1.848,1.6 a1.848,1.44 0 1,0 3.696,0 a1.848,1.44 0 1,0 -3.696,0 M1118.2,540.8 H1124.8 M1118.992,542.4 V544.4 H1124.008" fill="none" stroke="#ffffff" stroke-width="2.8" stroke-opacity="0.7" stroke-linejoin="round"/><path d="M1121.5,536.8 m-1.848,1.6 a1.848,1.44 0 1,0 3.696,0 a1.848,1.44 0 1,0 -3.696,0 M1118.2,540.8 H1124.8 M1118.992,542.4 V544.4 H1124.008" fill="none" stroke="#1d2240" stroke-width="1.4" stroke-linejoin="round"/><path d="M1126.1,537.1999999999999 H1129.43 C1129.43,541.1999999999999 1127.78,543.1999999999999 1125.8,544.0 M1131.212,536.4 V544.4 M1129.892,540.0 H1131.212" fill="none" stroke="#ffffff" stroke-width="2.8" stroke-opacity="0.7" stroke-linejoin="round"/><path d="M1126.1,537.1999999999999 H1129.43 C1129.43,541.1999999999999 1127.78,543.1999999999999 1125.8,544.0 M1131.212,536.4 V544.4 M1129.892,540.0 H1131.212" fill="none" stroke="#1d2240" stroke-width="1.4" stroke-linejoin="round"/><path d="M1133.7,537.1999999999999 H1137.0300000000002 C1137.0300000000002,541.1999999999999 1135.38,543.1999999999999 1133.4,544.0 M1138.8120000000001,536.4 V544.4 M1137.4920000000002,540.0 H1138.8120000000001" fill="none" stroke="#ffffff" stroke-width="2.8" stroke-opacity="0.7" stroke-linejoin="round"/><path d="M1133.7,537.1999999999999 H1137.0300000000002 C1137.0300000000002,541.1999999999999 1135.38,543.1999999999999 1133.4,544.0 M1138.8120000000001,536.4 V544.4 M1137.4920000000002,540.0 H1138.8120000000001" fill="none" stroke="#1d2240" stroke-width="1.4" stroke-linejoin="round"/><path d="M1141.99,537.1 H1146.61 M1144.3,537.1 V538.4 M1142.32,540.0 C1142.98,538.0 1145.62,538.0 1146.28,540.0 M1141.0,541.36 H1147.6 M1144.3,541.36 V542.8 M1141.99,542.9599999999999 H1146.61 V544.4 H1141.99" fill="none" stroke="#ffffff" stroke-width="2.8" stroke-opacity="0.7" stroke-linejoin="round"/><path d="M1141.99,537.1 H1146.61 M1144.3,537.1 V538.4 M1142.32,540.0 C1142.98,538.0 1145.62,538.0 1146.28,540.0 M1141.0,541.36 H1147.6 M1144.3,541.36 V542.8 M1141.99,542.9599999999999 H1146.61 V544.4 H1141.99" fill="none" stroke="#1d2240" stroke-width="1.4" stroke-linejoin="round"/><path d="M1149.59,537.1 H1154.2099999999998 M1151.8999999999999,537.1 V538.4 M1149.9199999999998,540.0 C1150.58,538.0 1153.2199999999998,538.0 1153.8799999999999,540.0 M1148.6,541.36 H1155.1999999999998 M1151.8999999999999,541.36 V542.8 M1149.59,542.9599999999999 H1154.2099999999998 V544.4 H1149.59" fill="none" stroke="#ffffff" stroke-width="2.8" stroke-opacity="0.7" stroke-linejoin="round"/><path d="M1149.59,537.1 H1154.2099999999998 M1151.8999999999999,537.1 V538.4 M1149.9199999999998,540.0 C1150.58,538.0 1153.2199999999998,538.0 1153.8799999999999,540.0 M1148.6,541.36 H1155.1999999999998 M1151.8999999999999,541.36 V542.8 M1149.59,542.9599999999999 H1154.2099999999998 V544.4 H1149.59" fill="none" stroke="#1d2240" stroke-width="1.4" stroke-linejoin="round"/><path d="M1115.62,547.5 H1120.3799999999999 M1118.0,547.5 V548.8 M1115.9599999999998,550.4 C1116.6399999999999,548.4 1119.36,548.4 1120.04,550.4 M1114.6,551.76 H1121.3999999999999 M1118.0,551.76 V553.1999999999999 M1115.62,553.3599999999999 H1120.3799999999999 V554.8 H1115.62" fill="none" stroke="#ffffff" stroke-width="2.8" stroke-opacity="0.7" stroke-linejoin="round"/><path d="M1115.62,547.5 H1120.3799999999999 M1118.0,547.5 V548.8 M1115.9599999999998,550.4 C1116.6399999999999,548.4 1119.36,548.4 1120.04,550.4 M1114.6,551.76 H1121.3999999999999 M1118.0,551.76 V553.1999999999999 M1115.62,553.3599999999999 H1120.3799999999999 V554.8 H1115.62" fill="none" stroke="#1d2240" stroke-width="1.4" stroke-linejoin="round"/><path d="M1123.1999999999998,547.5999999999999 H1126.4399999999998 V550.8 H1123.1999999999998 M1128.1399999999999,546.8 V551.76 M1128.1399999999999,549.1999999999999 H1129.4999999999998 M1123.7199999999998,552.56 H1128.4799999999998 V554.8 " fill="none" stroke="#ffffff" stroke-width="2.8" stroke-opacity="0.7" stroke-linejoin="round"/><path d="M1123.1999999999998,547.5999999999999 H1126.4399999999998 V550.8 H1123.1999999999998 M1128.1399999999999,546.8 V551.76 M1128.1399999999999,549.1999999999999 H1129.4999999999998 M1123.7199999999998,552.56 H1128.4799999999998 V554.8 " fill="none" stroke="#1d2240" stroke-width="1.4" stroke-linejoin="round"/><path d="M1131.1,547.5999999999999 H1134.54 C1134.54,551.5999999999999 1132.84,553.5999999999999 1130.8,554.4 M1136.376,546.8 V554.8 M1135.0159999999998,550.4 H1136.376" fill="none" stroke="#ffffff" stroke-width="2.8" stroke-opacity="0.7" stroke-linejoin="round"/><path d="M1131.1,547.5999999999999 H1134.54 C1134.54,551.5999999999999 1132.84,553.5999999999999 1130.8,554.4 M1136.376,546.8 V554.8 M1135.0159999999998,550.4 H1136.376" fill="none" stroke="#1d2240" stroke-width="1.4" stroke-linejoin="round"/><path d="M1142.3,547.1999999999999 m-1.9040000000000001,1.6 a1.9040000000000001,1.44 0 1,0 3.8080000000000003,0 a1.9040000000000001,1.44 0 1,0 -3.8080000000000003,0 M1138.8999999999999,551.1999999999999 H1145.6999999999998 M1139.716,552.8 V554.8 H1144.8839999999998" fill="none" stroke="#ffffff" stroke-width="2.8" stroke-opacity="0.7" stroke-linejoin="round"/><path d="M1142.3,547.1999999999999 m-1.9040000000000001,1.6 a1.9040000000000001,1.44 0 1,0 3.8080000000000003,0 a1.9040000000000001,1.44 0 1,0 -3.8080000000000003,0 M1138.8999999999999,551.1999999999999 H1145.6999999999998 M1139.716,552.8 V554.8 H1144.8839999999998" fill="none" stroke="#1d2240" stroke-width="1.4" stroke-linejoin="round"/><path d="M1086.8,547.85 H1090.35 C1090.35,552.1 1088.6,554.225 1086.5,555.075 M1092.24,547 V555.5 M1090.84,550.825 H1092.24" fill="none" stroke="#ffffff" stroke-width="2.8" stroke-opacity="0.7" stroke-linejoin="round"/><path d="M1086.8,547.85 H1090.35 C1090.35,552.1 1088.6,554.225 1086.5,555.075 M1092.24,547 V555.5 M1090.84,550.825 H1092.24" fill="none" stroke="#1d2240" stroke-width="1.4" stroke-linejoin="round"/><path d="M1098.2,547.425 m-1.9600000000000002,1.7000000000000002 a1.9600000000000002,1.53 0 1,0 3.9200000000000004,0 a1.9600000000000002,1.53 0 1,0 -3.9200000000000004,0 M1094.7,551.675 H1101.7 M1095.54,553.375 V555.5 H1100.8600000000001" fill="none" stroke="#ffffff" stroke-width="2.8" stroke-opacity="0.7" stroke-linejoin="round"/><path d="M1098.2,547.425 m-1.9600000000000002,1.7000000000000002 a1.9600000000000002,1.53 0 1,0 3.9200000000000004,0 a1.9600000000000002,1.53 0 1,0 -3.9200000000000004,0 M1094.7,551.675 H1101.7 M1095.54,553.375 V555.5 H1100.8600000000001" fill="none" stroke="#1d2240" stroke-width="1.4" stroke-linejoin="round"/><path d="M1086.8,558.85 H1090.35 C1090.35,563.1 1088.6,565.225 1086.5,566.075 M1092.24,558 V566.5 M1090.84,561.825 H1092.24" fill="none" stroke="#ffffff" stroke-width="2.8" stroke-opacity="0.7" stroke-linejoin="round"/><path d="M1086.8,558.85 H1090.35 C1090.35,563.1 1088.6,565.225 1086.5,566.075 M1092.24,558 V566.5 M1090.84,561.825 H1092.24" fill="none" stroke="#1d2240" stroke-width="1.4" stroke-linejoin="round"/><path d="M1095.2,558.8 H1098.55 V562.25 H1095.2 M1100.3,558 V563.27 M1100.3,560.55 H1101.7 M1095.75,564.12 H1100.65 V566.5 " fill="none" stroke="#ffffff" stroke-width="2.8" stroke-opacity="0.7" stroke-linejoin="round"/><path d="M1095.2,558.8 H1098.55 V562.25 H1095.2 M1100.3,558 V563.27 M1100.3,560.55 H1101.7 M1095.75,564.12 H1100.65 V566.5 " fill="none" stroke="#1d2240" stroke-width="1.4" stroke-linejoin="round"/><text x="1086.5" y="577" font-size="10" font-weight="700" fill="#1d2240" stroke="#fff" stroke-width="0.6" paint-order="stroke">CO<tspan font-size="6" dy="2">2</tspan></text></g><text x="12.0" y="22.6" font-size="18.51" fill="#ffffff" font-weight="700" textLength="106.2" lengthAdjust="spacingAndGlyphs">User System</text><text x="443.9" y="22.6" font-size="18.51" fill="#ffffff" font-weight="700" textLength="191.8" lengthAdjust="spacingAndGlyphs">Service Robot Platform</text><text x="1015.7" y="22.6" font-size="18.51" fill="#ffffff" font-weight="700" textLength="198.8" lengthAdjust="spacingAndGlyphs">Deep Learning Platform</text><text x="26.0" y="541.0" font-size="18.51" fill="#ffffff" font-weight="700" textLength="122.7" lengthAdjust="spacingAndGlyphs">Expert System</text><text x="92.2" y="50.3" font-size="13.50" fill="#1c1c1c">-</text><text x="99.2" y="50.3" font-size="14.18" fill="#1c1c1c" textLength="109.2" lengthAdjust="spacingAndGlyphs">Growth Diagnosis</text><text x="99.2" y="64.3" font-size="14.18" fill="#1c1c1c" textLength="44.6" lengthAdjust="spacingAndGlyphs">Results</text><text x="92.2" y="81.0" font-size="13.50" fill="#1c1c1c">-</text><text x="99.2" y="81.0" font-size="14.18" fill="#1c1c1c" textLength="94.2" lengthAdjust="spacingAndGlyphs">Pest Monitoring</text><text x="92.2" y="96.9" font-size="13.50" fill="#1c1c1c">-</text><text x="99.2" y="96.9" font-size="14.18" fill="#1c1c1c" textLength="75.3" lengthAdjust="spacingAndGlyphs">Pest Control</text><text x="99.2" y="110.4" font-size="14.18" fill="#1c1c1c" textLength="99.3" lengthAdjust="spacingAndGlyphs">Decision Making</text><text x="92.2" y="126.8" font-size="13.50" fill="#1c1c1c">-</text><text x="99.2" y="126.8" font-size="14.18" fill="#1c1c1c" textLength="121.4" lengthAdjust="spacingAndGlyphs">Harvesting Decision</text><text x="99.2" y="140.3" font-size="14.18" fill="#1c1c1c" textLength="44.9" lengthAdjust="spacingAndGlyphs">Making</text><text x="343.5" y="44.1" font-size="16.59" fill="#1c1c1c" text-anchor="middle" textLength="124.6" lengthAdjust="spacingAndGlyphs">Diagnosis Results</text><text x="343.5" y="60.1" font-size="16.59" fill="#1c1c1c" text-anchor="middle" textLength="122.6" lengthAdjust="spacingAndGlyphs">for Pest/Disease/</text><text x="343.5" y="75.5" font-size="16.59" fill="#1c1c1c" text-anchor="middle" textLength="117.0" lengthAdjust="spacingAndGlyphs">Growth/Harvest</text><text x="343.5" y="108.4" font-size="16.59" fill="#1c1c1c" text-anchor="middle" textLength="140.8" lengthAdjust="spacingAndGlyphs">Unmanned Control/</text><text x="343.5" y="124.1" font-size="16.59" fill="#1c1c1c" text-anchor="middle" textLength="133.6" lengthAdjust="spacingAndGlyphs">Harvest/Transport</text><text x="343.5" y="139.8" font-size="16.59" fill="#1c1c1c" text-anchor="middle" textLength="115.2" lengthAdjust="spacingAndGlyphs">Decision Making</text><text x="273.3" y="169.5" font-size="13.40" fill="#1c1c1c">-</text><text x="280.1" y="169.5" font-size="14.07" fill="#1c1c1c" textLength="94.5" lengthAdjust="spacingAndGlyphs">Pest Monitoring</text><text x="280.1" y="183.6" font-size="14.07" fill="#1c1c1c" textLength="60.9" lengthAdjust="spacingAndGlyphs">Diagnosis</text><text x="273.3" y="199.4" font-size="13.40" fill="#1c1c1c">-</text><text x="280.1" y="199.4" font-size="14.07" fill="#1c1c1c" textLength="133.8" lengthAdjust="spacingAndGlyphs">Growth Measurement</text><text x="280.1" y="213.2" font-size="14.07" fill="#1c1c1c" textLength="60.9" lengthAdjust="spacingAndGlyphs">Diagnosis</text><text x="273.3" y="229.8" font-size="13.40" fill="#1c1c1c">-</text><text x="280.1" y="229.8" font-size="14.07" fill="#1c1c1c" textLength="115.8" lengthAdjust="spacingAndGlyphs">Unmanned Control</text><text x="280.1" y="243.6" font-size="14.07" fill="#1c1c1c" textLength="71.1" lengthAdjust="spacingAndGlyphs">Instructions</text><text x="273.3" y="259.3" font-size="13.40" fill="#1c1c1c">-</text><text x="280.1" y="259.3" font-size="14.07" fill="#1c1c1c" textLength="87.9" lengthAdjust="spacingAndGlyphs">Robot Harvest</text><text x="280.1" y="273.4" font-size="14.07" fill="#1c1c1c" textLength="71.1" lengthAdjust="spacingAndGlyphs">Instructions</text><text x="273.3" y="289.1" font-size="13.40" fill="#1c1c1c">-</text><text x="280.1" y="289.1" font-size="14.07" fill="#1c1c1c" textLength="131.0" lengthAdjust="spacingAndGlyphs">Unmanned Transport</text><text x="280.1" y="302.9" font-size="14.07" fill="#1c1c1c" textLength="76.3" lengthAdjust="spacingAndGlyphs">and Loading</text><text x="558.5" y="71.1" font-size="14.60" fill="#a9aaae" textLength="69.1" lengthAdjust="spacingAndGlyphs">Application</text><text x="558.5" y="83.7" font-size="14.60" fill="#a9aaae" textLength="42.0" lengthAdjust="spacingAndGlyphs">Server</text><text x="558.2" y="107.0" font-size="18.90" fill="#1c1c1c" textLength="69.5" lengthAdjust="spacingAndGlyphs">Big Data</text><text x="558.2" y="123.1" font-size="18.90" fill="#1c1c1c" textLength="80.4" lengthAdjust="spacingAndGlyphs">Database</text><text x="657.6" y="64.8" font-size="14.38" fill="#cd8a3e" textLength="36.8" lengthAdjust="spacingAndGlyphs">Robot</text><text x="657.6" y="76.8" font-size="14.38" fill="#cd8a3e" textLength="46.0" lengthAdjust="spacingAndGlyphs">Control</text><text x="657.6" y="92.9" font-size="14.38" fill="#cd8a3e" textLength="46.9" lengthAdjust="spacingAndGlyphs">Growth</text><text x="657.6" y="104.4" font-size="14.38" fill="#cd8a3e" textLength="84.8" lengthAdjust="spacingAndGlyphs">Measurement</text><text x="657.6" y="120.5" font-size="14.38" fill="#cd8a3e" textLength="90.9" lengthAdjust="spacingAndGlyphs">Pest &amp; Disease</text><text x="657.6" y="132.0" font-size="14.38" fill="#cd8a3e" textLength="60.7" lengthAdjust="spacingAndGlyphs">Diagnosis</text><text x="465.5" y="176.7" font-size="13.60" fill="#1c1c1c">-</text><text x="472.2" y="176.7" font-size="14.28" fill="#1c1c1c" textLength="222.4" lengthAdjust="spacingAndGlyphs">Growth Measurement and Diagnosis</text><text x="465.5" y="193.2" font-size="13.60" fill="#1c1c1c">-</text><text x="472.2" y="193.2" font-size="14.28" fill="#1c1c1c" textLength="256.2" lengthAdjust="spacingAndGlyphs">Automatic Pest and Diseases Identification</text><text x="465.5" y="209.0" font-size="13.60" fill="#1c1c1c">-</text><text x="472.2" y="209.0" font-size="14.28" fill="#1c1c1c" textLength="88.8" lengthAdjust="spacingAndGlyphs">Expert System</text><text x="809.0" y="63.5" font-size="11.65" fill="#1c1c1c" text-anchor="middle" textLength="32.4" lengthAdjust="spacingAndGlyphs">Image</text><text x="809.0" y="75.9" font-size="11.65" fill="#1c1c1c" text-anchor="middle" textLength="66.9" lengthAdjust="spacingAndGlyphs">Transmission</text><text x="964.0" y="63.5" font-size="11.65" fill="#1c1c1c" text-anchor="middle" textLength="50.3" lengthAdjust="spacingAndGlyphs">Repeated</text><text x="964.0" y="75.9" font-size="11.65" fill="#1c1c1c" text-anchor="middle" textLength="54.5" lengthAdjust="spacingAndGlyphs">Relearning</text><text x="884.5" y="91.4" font-size="11.65" fill="#ffffff" text-anchor="middle" textLength="32.3" lengthAdjust="spacingAndGlyphs">Image</text><text x="884.5" y="101.1" font-size="11.65" fill="#ffffff" text-anchor="middle" textLength="66.7" lengthAdjust="spacingAndGlyphs">Transmission</text><text x="884.5" y="115.6" font-size="15.52" fill="#ffffff" font-weight="700" text-anchor="middle" textLength="31.4" lengthAdjust="spacingAndGlyphs">90%</text><text x="964.6" y="103.6" font-size="14.91" fill="#ffffff" text-anchor="middle" textLength="22.2" lengthAdjust="spacingAndGlyphs">Yes</text><text x="885.7" y="152.5" font-size="14.49" fill="#ffffff" text-anchor="middle" textLength="18.1" lengthAdjust="spacingAndGlyphs">No</text><text x="932.5" y="144.8" font-size="11.45" fill="#cd8a3e" text-anchor="middle" textLength="46.2" lengthAdjust="spacingAndGlyphs">Learning</text><text x="932.5" y="157.6" font-size="11.45" fill="#cd8a3e" text-anchor="middle" textLength="49.5" lengthAdjust="spacingAndGlyphs">Reflection</text><text x="875.2" y="197.5" font-size="14.60" fill="#ffffff" text-anchor="middle" textLength="106.1" lengthAdjust="spacingAndGlyphs">Expert Judgment</text><text x="1108.5" y="92.0" font-size="14.18" fill="#a9aaae" textLength="89.5" lengthAdjust="spacingAndGlyphs">Deep Learning</text><text x="1108.5" y="104.9" font-size="14.18" fill="#a9aaae" textLength="41.7" lengthAdjust="spacingAndGlyphs">Server</text><text x="1215.2" y="183.0" font-size="17.87" fill="#ffffff" font-weight="700" text-anchor="middle" textLength="66.0" lengthAdjust="spacingAndGlyphs">Training</text><text x="1089.4" y="191.3" font-size="11.87" fill="#cd8a3e" text-anchor="middle" textLength="108.6" lengthAdjust="spacingAndGlyphs">Crop Organ Learning</text><text x="1089.4" y="203.0" font-size="11.87" fill="#cd8a3e" text-anchor="middle" textLength="130.7" lengthAdjust="spacingAndGlyphs">Disease and pest learning</text><text x="887.5" y="258.4" font-size="14.07" fill="#ffffff" text-anchor="middle" textLength="129.9" lengthAdjust="spacingAndGlyphs">Reflecting Completed</text><text x="887.5" y="270.9" font-size="14.07" fill="#ffffff" text-anchor="middle" textLength="111.2" lengthAdjust="spacingAndGlyphs">Deep Learning DB</text><text x="68.6" y="332.6" font-size="19.11" fill="#1c1c1c" text-anchor="middle" textLength="54.2" lengthAdjust="spacingAndGlyphs">Expert</text><text x="68.6" y="348.1" font-size="19.11" fill="#1c1c1c" text-anchor="middle" textLength="102.1" lengthAdjust="spacingAndGlyphs">Consultation</text><text x="166.8" y="332.6" font-size="19.11" fill="#1c1c1c" text-anchor="middle" textLength="55.0" lengthAdjust="spacingAndGlyphs">Expert</text><text x="166.8" y="348.1" font-size="19.11" fill="#1c1c1c" text-anchor="middle" textLength="55.0" lengthAdjust="spacingAndGlyphs">Advice</text><text x="83.0" y="575.8" font-size="15.80" fill="#1c1c1c">-</text><text x="91.2" y="575.8" font-size="16.59" fill="#1c1c1c" textLength="87.7" lengthAdjust="spacingAndGlyphs">Pest Control</text><text x="91.2" y="592.0" font-size="16.59" fill="#1c1c1c" textLength="75.3" lengthAdjust="spacingAndGlyphs">Standards</text><text x="83.0" y="611.8" font-size="15.80" fill="#1c1c1c">-</text><text x="91.2" y="611.8" font-size="16.59" fill="#1c1c1c" textLength="127.2" lengthAdjust="spacingAndGlyphs">Growth Diagnosis</text><text x="91.2" y="627.5" font-size="16.59" fill="#1c1c1c" textLength="87.2" lengthAdjust="spacingAndGlyphs">Action Plans</text><text x="343.5" y="367.0" font-size="16.05" fill="#1c1c1c" font-weight="700" text-anchor="middle" textLength="46.7" lengthAdjust="spacingAndGlyphs">Smart</text><text x="343.5" y="382.5" font-size="16.05" fill="#1c1c1c" font-weight="700" text-anchor="middle" textLength="90.5" lengthAdjust="spacingAndGlyphs">Greenhouse</text><text x="343.5" y="398.3" font-size="16.05" fill="#1c1c1c" font-weight="700" text-anchor="middle" textLength="101.7" lengthAdjust="spacingAndGlyphs">Robot Control</text><text x="525.5" y="324.7" font-size="16.05" fill="#1c1c1c" font-weight="700" text-anchor="middle" textLength="63.7" lengthAdjust="spacingAndGlyphs">Elevated</text><text x="525.5" y="340.3" font-size="16.05" fill="#1c1c1c" font-weight="700" text-anchor="middle" textLength="91.7" lengthAdjust="spacingAndGlyphs">Travel Robot</text><text x="525.5" y="417.0" font-size="16.05" fill="#1c1c1c" font-weight="700" text-anchor="middle" textLength="83.7" lengthAdjust="spacingAndGlyphs">Low-Profile</text><text x="525.5" y="432.5" font-size="16.05" fill="#1c1c1c" font-weight="700" text-anchor="middle" textLength="91.2" lengthAdjust="spacingAndGlyphs">Travel Robot</text><text x="525.5" y="508.9" font-size="16.05" fill="#1c1c1c" font-weight="700" text-anchor="middle" textLength="111.5" lengthAdjust="spacingAndGlyphs">Automatic Pest</text><text x="525.5" y="524.9" font-size="16.05" fill="#1c1c1c" font-weight="700" text-anchor="middle" textLength="101.0" lengthAdjust="spacingAndGlyphs">Control Robot</text><text x="525.5" y="593.9" font-size="16.05" fill="#1c1c1c" font-weight="700" text-anchor="middle" textLength="80.7" lengthAdjust="spacingAndGlyphs">Unmanned</text><text x="525.5" y="610.0" font-size="16.05" fill="#1c1c1c" font-weight="700" text-anchor="middle" textLength="71.8" lengthAdjust="spacingAndGlyphs">Transport</text><text x="525.5" y="625.6" font-size="16.05" fill="#1c1c1c" font-weight="700" text-anchor="middle" textLength="91.3" lengthAdjust="spacingAndGlyphs">and Loading</text><text x="698.7" y="324.4" font-size="16.05" fill="#1c1c1c" font-weight="700" text-anchor="middle" textLength="85.1" lengthAdjust="spacingAndGlyphs">Detachable</text><text x="698.7" y="340.2" font-size="16.05" fill="#1c1c1c" font-weight="700" text-anchor="middle" textLength="35.1" lengthAdjust="spacingAndGlyphs">Cart</text><text x="870.6" y="324.4" font-size="16.05" fill="#1c1c1c" font-weight="700" text-anchor="middle" textLength="80.7" lengthAdjust="spacingAndGlyphs">Unmanned</text><text x="870.6" y="340.2" font-size="16.05" fill="#1c1c1c" font-weight="700" text-anchor="middle" textLength="29.0" lengthAdjust="spacingAndGlyphs">Car</text><text x="1043.4" y="332.5" font-size="16.05" fill="#1c1c1c" font-weight="700" text-anchor="middle" textLength="73.1" lengthAdjust="spacingAndGlyphs">Transport</text><text x="1215.2" y="314.2" font-size="16.05" fill="#1c1c1c" font-weight="700" text-anchor="middle" textLength="61.4" lengthAdjust="spacingAndGlyphs">Sorting/</text><text x="1215.2" y="330.6" font-size="16.05" fill="#1c1c1c" font-weight="700" text-anchor="middle" textLength="66.8" lengthAdjust="spacingAndGlyphs">Loading/</text><text x="1215.2" y="347.0" font-size="16.05" fill="#1c1c1c" font-weight="700" text-anchor="middle" textLength="64.9" lengthAdjust="spacingAndGlyphs">Shipping</text><text x="1014.6" y="395.0" font-size="11.81" fill="#1c1c1c" text-anchor="middle" textLength="126.7" lengthAdjust="spacingAndGlyphs">Pest Diagnostic Collector</text><text x="1014.6" y="406.6" font-size="11.81" fill="#1c1c1c" text-anchor="middle" textLength="130.1" lengthAdjust="spacingAndGlyphs">(Pest Monitoring Camera)</text><text x="1208.4" y="395.0" font-size="11.81" fill="#1c1c1c" text-anchor="middle" textLength="118.8" lengthAdjust="spacingAndGlyphs">Greenhouse Monitoring</text><text x="1208.4" y="406.1" font-size="11.81" fill="#1c1c1c" text-anchor="middle" textLength="32.9" lengthAdjust="spacingAndGlyphs">CCTV</text></svg>
</body></html>
